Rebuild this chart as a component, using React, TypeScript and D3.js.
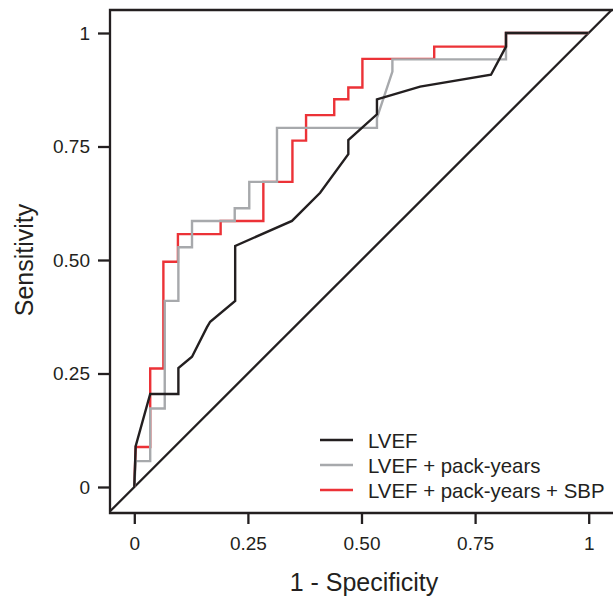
import { useEffect, useRef } from 'react';
import * as d3 from 'd3';

// ROC curves: [1 - specificity, sensitivity]
const lvef: [number, number][] = [
  [0, 0], [0.003, 0.09], [0.035, 0.205], [0.097, 0.205], [0.097, 0.262],
  [0.127, 0.287], [0.16, 0.352], [0.167, 0.364], [0.222, 0.41], [0.222, 0.531],
  [0.347, 0.586], [0.409, 0.648], [0.471, 0.733], [0.471, 0.764], [0.534, 0.821],
  [0.534, 0.854], [0.629, 0.882], [0.785, 0.908], [0.818, 0.97], [0.818, 1], [1, 1],
];

const lvefPack: [number, number][] = [
  [0, 0], [0.003, 0.057], [0.035, 0.057], [0.035, 0.173], [0.067, 0.173],
  [0.067, 0.41], [0.097, 0.41], [0.097, 0.528], [0.127, 0.528], [0.127, 0.586],
  [0.221, 0.586], [0.221, 0.614], [0.253, 0.614], [0.253, 0.672], [0.314, 0.672],
  [0.314, 0.791], [0.534, 0.791], [0.534, 0.813], [0.568, 0.915], [0.568, 0.942],
  [0.818, 0.942], [0.818, 1], [1, 1],
];

const lvefPackSbp: [number, number][] = [
  [0, 0], [0.003, 0.088], [0.035, 0.088], [0.035, 0.261], [0.064, 0.261],
  [0.064, 0.496], [0.096, 0.496], [0.096, 0.557], [0.19, 0.557], [0.19, 0.586],
  [0.284, 0.586], [0.284, 0.672], [0.348, 0.672], [0.348, 0.763], [0.378, 0.763],
  [0.378, 0.819], [0.44, 0.819], [0.44, 0.854], [0.471, 0.854], [0.471, 0.88],
  [0.502, 0.88], [0.502, 0.943], [0.66, 0.943], [0.66, 0.97], [0.818, 0.97],
  [0.818, 1], [1, 1],
];

const ticks = [0, 0.25, 0.5, 0.75, 1];
const tickLabels = ['0', '0.25', '0.50', '0.75', '1'];
const legendNames = ['LVEF', 'LVEF + pack-years', 'LVEF + pack-years + SBP'];
const colors = ['#231f20', '#a7a9ac', '#ec3237'];

const App = () => {
  const svgRef = useRef<SVGSVGElement>(null);
  const width = 613;
  const height = 597;
  const box = { left: 110, top: 10, right: 616, bottom: 513 };
  const font = 'Arial, "Liberation Sans", Helvetica, sans-serif';

  useEffect(() => {
    const svg = d3.select(svgRef.current);
    svg.selectAll('*').remove();

    const x = d3.scaleLinear().domain([0, 1]).range([134.3, 588.7]);
    const y = d3.scaleLinear().domain([0, 1]).range([487, 33]);

    svg.append('defs')
      .append('clipPath')
      .attr('id', 'plotClip')
      .append('rect')
      .attr('x', box.left)
      .attr('y', box.top)
      .attr('width', box.right - box.left)
      .attr('height', box.bottom - box.top);

    const line = d3.line<[number, number]>()
      .x(d => x(d[0]))
      .y(d => y(d[1]));

    const plot = svg.append('g').attr('clip-path', 'url(#plotClip)');

    // reference diagonal across the full domain
    const lo = x.invert(box.left);
    const hi = x.invert(box.right);
    plot.append('path')
      .attr('d', line([[lo, lo], [hi, hi]]))
      .attr('fill', 'none')
      .attr('stroke', '#231f20')
      .attr('stroke-width', 2.3);

    const series = [lvefPackSbp, lvefPack, lvef];
    const seriesColors = [colors[2], colors[1], colors[0]];
    series.forEach((s, i) => {
      plot.append('path')
        .attr('d', line(s))
        .attr('fill', 'none')
        .attr('stroke', seriesColors[i])
        .attr('stroke-width', 2.4)
        .attr('stroke-linejoin', 'miter');
    });

    // frame (left, top, bottom)
    svg.append('path')
      .attr('d', `M${box.right},${box.top}H${box.left}V${box.bottom}H${box.right}`)
      .attr('fill', 'none')
      .attr('stroke', '#231f20')
      .attr('stroke-width', 2.3);

    const xAxis = d3.axisBottom(x).tickValues(ticks).tickSize(11).tickPadding(13)
      .tickFormat((_, i) => tickLabels[i]);
    const gx = svg.append('g')
      .attr('transform', `translate(0,${box.bottom})`)
      .call(xAxis);
    gx.select('.domain').remove();
    gx.selectAll('line').attr('stroke', '#231f20').attr('stroke-width', 2.3);
    gx.selectAll('text')
      .attr('fill', '#231f20')
      .style('font-family', font)
      .style('font-size', '19px');

    const yAxis = d3.axisLeft(y).tickValues(ticks).tickSize(12).tickPadding(8)
      .tickFormat((_, i) => tickLabels[i]);
    const gy = svg.append('g')
      .attr('transform', `translate(${box.left},0)`)
      .call(yAxis);
    gy.select('.domain').remove();
    gy.selectAll('line').attr('stroke', '#231f20').attr('stroke-width', 2.3);
    gy.selectAll('text')
      .attr('fill', '#231f20')
      .style('font-family', font)
      .style('font-size', '19px');

    svg.append('text')
      .attr('x', 364)
      .attr('y', 591)
      .attr('text-anchor', 'middle')
      .attr('fill', '#231f20')
      .style('font-family', font)
      .style('font-size', '25px')
      .text('1 - Specificity');

    svg.append('text')
      .attr('transform', 'rotate(-90)')
      .attr('x', -260)
      .attr('y', 33)
      .attr('text-anchor', 'middle')
      .attr('fill', '#231f20')
      .style('font-family', font)
      .style('font-size', '25px')
      .text('Sensitivity');

    const legend = svg.append('g');
    const legendY = [440, 465, 490];
    legendNames.forEach((name, i) => {
      legend.append('line')
        .attr('x1', 320).attr('x2', 353)
        .attr('y1', legendY[i]).attr('y2', legendY[i])
        .attr('stroke', colors[i])
        .attr('stroke-width', 2.3);
      legend.append('text')
        .attr('x', 368)
        .attr('y', legendY[i] + 7.5)
        .attr('fill', '#231f20')
        .style('font-family', font)
        .style('font-size', '20.4px')
        .text(name);
    });
  }, []);

  return (
    <svg
      ref={svgRef}
      width={width}
      height={height}
      style={{ position: 'absolute', left: 0, top: 0, background: '#fff' }}
    />
  );
};

export default App;
